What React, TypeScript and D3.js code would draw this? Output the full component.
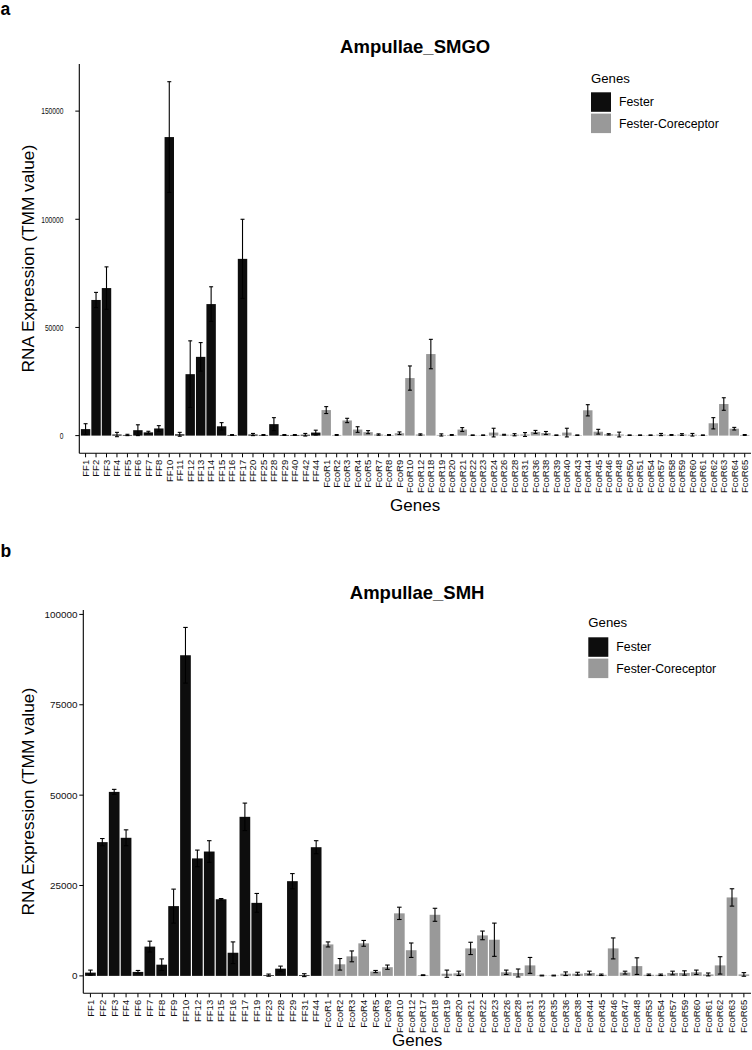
import React from "react";
import * as d3 from "d3";

// ---------- Panel a: Ampullae_SMGO ----------
const genesA = [
  "FF1","FF2","FF3","FF4","FF5","FF6","FF7","FF8","FF10","FF11","FF12","FF13","FF14","FF15","FF16","FF17","FF20","FF25","FF28","FF29","FF40","FF42","FF44",
  "FcoR1","FcoR2","FcoR3","FcoR4","FcoR5","FcoR7","FcoR8","FcoR9","FcoR10","FcoR12","FcoR18","FcoR19","FcoR20","FcoR21","FcoR22","FcoR23","FcoR24","FcoR26","FcoR28","FcoR31","FcoR36","FcoR38","FcoR39","FcoR40","FcoR43","FcoR44","FcoR45","FcoR46","FcoR48","FcoR50","FcoR51","FcoR54","FcoR57","FcoR58","FcoR59","FcoR60","FcoR61","FcoR62","FcoR63","FcoR64","FcoR65",
];
const meanA = [
  3000,62700,68200,500,300,2500,1500,3300,138000,600,28400,36400,60800,4300,300,81700,500,300,5300,300,300,400,1400,
  11800,300,7000,2800,1600,500,300,1100,26600,500,37700,300,300,2800,200,200,1400,400,400,500,1700,1200,200,1400,200,11700,1800,600,500,200,200,200,500,300,500,400,200,5700,14600,3200,300,
];
const sdA = [
  2500,3500,9800,1000,300,2500,500,1300,25600,900,15400,6600,8000,1700,200,18300,500,200,3000,200,200,600,1100,
  1600,200,1000,1300,700,300,200,600,5600,300,6800,500,200,900,100,100,2000,200,500,900,700,700,100,2000,100,2600,1100,300,1100,100,100,100,500,200,400,600,100,2600,2900,600,200,
];
const ticksA = [0, 50000, 100000, 150000];

// ---------- Panel b: Ampullae_SMH ----------
const genesB = [
  "FF1","FF2","FF3","FF4","FF6","FF7","FF8","FF9","FF10","FF12","FF13","FF15","FF16","FF17","FF19","FF23","FF28","FF29","FF31","FF44",
  "FcoR1","FcoR2","FcoR3","FcoR4","FcoR5","FcoR9","FcoR10","FcoR12","FcoR17","FcoR18","FcoR19","FcoR20","FcoR21","FcoR22","FcoR23","FcoR26","FcoR28","FcoR31","FcoR33","FcoR35","FcoR36","FcoR38","FcoR44","FcoR45","FcoR46","FcoR47","FcoR48","FcoR53","FcoR54","FcoR57","FcoR59","FcoR60","FcoR61","FcoR62","FcoR63","FcoR65",
];
const meanB = [
  900,37000,50900,38200,1100,8100,3100,19300,88700,32500,34400,21200,6400,44000,20200,200,2000,26200,200,35600,
  8700,3200,5400,9000,1200,2400,17300,7100,200,16900,600,700,7600,11200,10000,1000,800,2900,100,100,600,600,800,300,7600,900,2700,300,300,800,800,1000,400,2900,21700,400,
];
const sdB = [
  700,1000,700,2200,400,1500,1600,4700,7700,2300,3000,200,3000,3800,2600,300,700,2100,400,1800,
  700,1600,1500,800,300,600,1700,2000,100,1800,1000,600,1700,1200,4600,600,1100,2200,100,100,500,400,500,200,2900,400,2300,200,200,500,600,600,400,2400,2400,500,
];
const ticksB = [0, 25000, 50000, 75000, 100000];

const groups = ["Fester", "Fester-Coreceptor"];
const groupColors = ["#0d0d0d", "#999999"];

const FONT = "'Liberation Sans', Arial, Helvetica, sans-serif";

type PanelCfg = {
  letter: string;
  letterY: number;
  title: string;
  titleY: number;
  genes: string[];
  means: number[];
  sds: number[];
  ticks: number[];
  left: number;
  right: number;
  top: number;
  bottom: number;
  yTickSize: number;
  yTickScaleX: number;
  yTickX: number;
  legendX: number;
  legendTitleY: number;
  legendKeyY: number;
  xTitleY: number;
};

function Panel({ cfg }: { cfg: PanelCfg }) {
  const color = d3.scaleOrdinal<string, string>().domain(groups).range(groupColors);
  const groupOf = (g: string) => (g.startsWith("FF") ? groups[0] : groups[1]);
  const x = d3.scalePoint<string>().domain(cfg.genes).range([cfg.left, cfg.right]).padding(0.6);
  const step = x.step();
  const maxTop = d3.max(cfg.means.map((m, i) => m + cfg.sds[i])) as number;
  const y = d3
    .scaleLinear()
    .domain([-0.05 * maxTop, 1.05 * maxTop])
    .range([cfg.bottom, cfg.top]);
  const barW = step * 0.9;
  const capW = step * 0.38;
  const fmt = d3.format("d");
  const cx = (cfg.left + cfg.right) / 2;
  const cy = (cfg.top + cfg.bottom) / 2;
  const keyH = 19.5;
  const keyGap = 1.8;

  return (
    <g>
      <text x={0.5} y={cfg.letterY} fontFamily={FONT} fontWeight="bold" fontSize={17.5}>
        {cfg.letter}
      </text>
      <text x={cx} y={cfg.titleY} textAnchor="middle" fontFamily={FONT} fontWeight="bold" fontSize={18.5}>
        {cfg.title}
      </text>

      {/* bars */}
      {cfg.genes.map((g, i) => {
        const xc = x(g) as number;
        const y0 = y(0);
        const y1 = y(cfg.means[i]);
        return (
          <rect
            key={"b" + g}
            x={xc - barW / 2}
            y={Math.min(y0, y1)}
            width={barW}
            height={Math.abs(y0 - y1)}
            fill={color(groupOf(g))}
          />
        );
      })}

      {/* error bars */}
      {cfg.genes.map((g, i) => {
        const xc = x(g) as number;
        const hi = y(cfg.means[i] + cfg.sds[i]);
        const lo = y(cfg.means[i] - cfg.sds[i]);
        return (
          <g key={"e" + g} stroke="#000" strokeWidth={1.1} fill="none">
            <line x1={xc} x2={xc} y1={lo} y2={hi} />
            <line x1={xc - capW / 2} x2={xc + capW / 2} y1={hi} y2={hi} />
            <line x1={xc - capW / 2} x2={xc + capW / 2} y1={lo} y2={lo} />
          </g>
        );
      })}

      {/* axes */}
      <line x1={cfg.left} x2={cfg.left} y1={cfg.top} y2={cfg.bottom} stroke="#000" strokeWidth={1.1} />
      <line x1={cfg.left} x2={cfg.right} y1={cfg.bottom} y2={cfg.bottom} stroke="#000" strokeWidth={1.1} />

      {cfg.ticks.map((t) => {
        const s = fmt(t);
        return (
          <g key={"yt" + t}>
            <line x1={cfg.left - 4} x2={cfg.left} y1={y(t)} y2={y(t)} stroke="#000" strokeWidth={1} />
            <text
              transform={`translate(${cfg.yTickX},${y(t)}) scale(${cfg.yTickScaleX},1)`}
              dy="0.35em"
              textAnchor="end"
              fontFamily={FONT}
              fontSize={cfg.yTickSize}
              fill="#111"
            >
              {s}
            </text>
          </g>
        );
      })}

      {cfg.genes.map((g) => {
        const xc = x(g) as number;
        return (
          <g key={"xt" + g}>
            <line x1={xc} x2={xc} y1={cfg.bottom} y2={cfg.bottom + 4} stroke="#000" strokeWidth={1} />
            <text
              transform={`translate(${xc},${cfg.bottom + 6.5}) rotate(-90)`}
              dy="0.35em"
              textAnchor="end"
              fontFamily={FONT}
              fontSize={9.5}
              fill="#111"
            >
              {g}
            </text>
          </g>
        );
      })}

      {/* axis titles */}
      <text
        transform={`translate(34,${cy}) rotate(-90)`}
        textAnchor="middle"
        fontFamily={FONT}
        fontSize={17.3}
      >
        RNA Expression (TMM value)
      </text>
      <text x={cx} y={cfg.xTitleY} textAnchor="middle" fontFamily={FONT} fontSize={17}>
        Genes
      </text>

      {/* legend */}
      <text x={cfg.legendX} y={cfg.legendTitleY} fontFamily={FONT} fontSize={13.2}>
        Genes
      </text>
      {groups.map((gr, k) => {
        const ky = cfg.legendKeyY + k * (keyH + keyGap);
        return (
          <g key={"lg" + gr}>
            <rect x={cfg.legendX} y={ky} width={20} height={keyH} fill={color(gr)} />
            <text x={cfg.legendX + 28} y={ky + keyH / 2} dy="0.35em" fontFamily={FONT} fontSize={12.3}>
              {gr}
            </text>
          </g>
        );
      })}
    </g>
  );
}

const panelA: PanelCfg = {
  letter: "a",
  letterY: 15,
  title: "Ampullae_SMGO",
  titleY: 53,
  genes: genesA,
  means: meanA,
  sds: sdA,
  ticks: ticksA,
  left: 79.3,
  right: 751,
  top: 64,
  bottom: 453.3,
  yTickSize: 9.3,
  yTickScaleX: 0.72,
  yTickX: 63.5,
  legendX: 591,
  legendTitleY: 83,
  legendKeyY: 92.3,
  xTitleY: 510.5,
};

const panelB: PanelCfg = {
  letter: "b",
  letterY: 556.5,
  title: "Ampullae_SMH",
  titleY: 599,
  genes: genesB,
  means: meanB,
  sds: sdB,
  ticks: ticksB,
  left: 83.3,
  right: 751,
  top: 610,
  bottom: 993.3,
  yTickSize: 9.9,
  yTickScaleX: 1,
  yTickX: 77.5,
  legendX: 588.3,
  legendTitleY: 626.7,
  legendKeyY: 637.3,
  xTitleY: 1045.5,
};

export default function App() {
  return (
    <svg
      width={752}
      height={1050}
      viewBox="0 0 752 1050"
      style={{ position: "absolute", left: 0, top: 0, background: "#fff" }}
    >
      <rect x={0} y={0} width={752} height={1050} fill="#fff" />
      <Panel cfg={panelA} />
      <Panel cfg={panelB} />
    </svg>
  );
}
